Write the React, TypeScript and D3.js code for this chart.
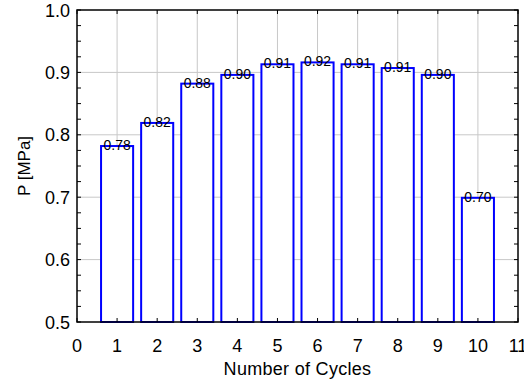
import React from "react";
import * as d3 from "d3";

const cycles = [1, 2, 3, 4, 5, 6, 7, 8, 9, 10];
const pressures = [0.782, 0.819, 0.882, 0.896, 0.913, 0.916, 0.913, 0.907, 0.896, 0.699];
const barLabels = ["0.78", "0.82", "0.88", "0.90", "0.91", "0.92", "0.91", "0.91", "0.90", "0.70"];
const xTicks = [0, 1, 2, 3, 4, 5, 6, 7, 8, 9, 10, 11];
const yTicks = [0.5, 0.6, 0.7, 0.8, 0.9, 1.0];
const yMinor = d3.range(0.5, 1.0001, 0.025);

export default function App() {
  const W = 524, H = 383;
  const left = 77, right = 518, top = 10, bottom = 322;
  const x = d3.scaleLinear().domain([0, 11]).range([left, right]);
  const y = d3.scaleLinear().domain([0.5, 1.0]).range([bottom, top]);
  const bw = x(0.8) - x(0);
  const font = "Liberation Sans, Arial, sans-serif";
  return (
    <svg width={W} height={H} style={{ position: "absolute", left: 0, top: 0, background: "#fff" }}>
      <rect x={0} y={0} width={W} height={H} fill="#fff" />
      {xTicks.slice(1, -1).map((t) => (
        <line key={"gx" + t} x1={x(t)} x2={x(t)} y1={top} y2={bottom} stroke="#c8c8c8" strokeWidth={1} />
      ))}
      {yTicks.slice(1, -1).map((t) => (
        <line key={"gy" + t} x1={left} x2={right} y1={y(t)} y2={y(t)} stroke="#c8c8c8" strokeWidth={1} />
      ))}
      {cycles.map((c, i) => (
        <rect key={"b" + c} x={x(c) - bw / 2} y={y(pressures[i])} width={bw} height={bottom - y(pressures[i])}
          fill="#fff" stroke="#0000ff" strokeWidth={2} />
      ))}
      {cycles.map((c, i) => (
        <text key={"l" + c} x={x(c)} y={y(pressures[i]) + 4} textAnchor="middle" fontFamily={font}
          fontSize={14} fill="#000">{barLabels[i]}</text>
      ))}
      {yMinor.map((t, i) => (
        <g key={"ym" + i}>
          <line x1={left} x2={left + 4} y1={y(t)} y2={y(t)} stroke="#000" />
          <line x1={right} x2={right - 4} y1={y(t)} y2={y(t)} stroke="#000" />
        </g>
      ))}
      {xTicks.map((t) => (
        <g key={"xt" + t}>
          <line x1={x(t)} x2={x(t)} y1={bottom} y2={bottom - 4} stroke="#000" />
          <line x1={x(t)} x2={x(t)} y1={top} y2={top + 4} stroke="#000" />
        </g>
      ))}
      <rect x={left} y={top} width={right - left} height={bottom - top} fill="none" stroke="#000" strokeWidth={1.5} />
      {yTicks.map((t) => (
        <text key={"yl" + t} x={left - 7} y={y(t) + 6.5} textAnchor="end" fontFamily={font} fontSize={18} fill="#000">
          {d3.format(".1f")(t)}
        </text>
      ))}
      {xTicks.map((t) => (
        <text key={"xl" + t} x={x(t)} y={352} textAnchor="middle" fontFamily={font} fontSize={18} fill="#000">
          {t}
        </text>
      ))}
      <text x={(left + right) / 2} y={375} textAnchor="middle" fontFamily={font} fontSize={18}
        letterSpacing={0.3} fill="#000">
        Number of Cycles
      </text>
      <text transform={`translate(30, ${(top + bottom) / 2}) rotate(-90)`} textAnchor="middle" fontFamily={font}
        fontSize={17} fill="#000">P [MPa]</text>
    </svg>
  );
}
